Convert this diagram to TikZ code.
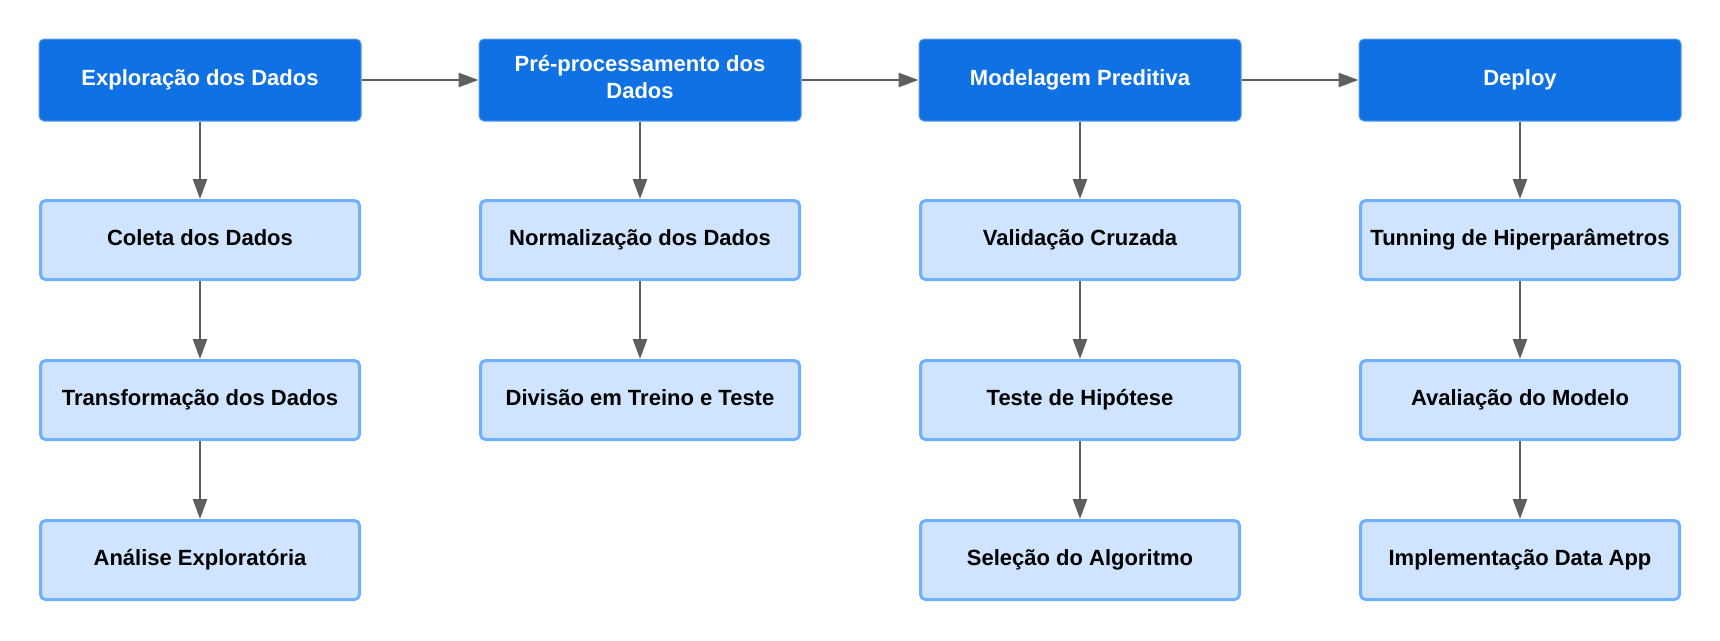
\documentclass[tikz,border=0pt]{standalone}
\usepackage{fontspec}
\setmainfont{Liberation Sans}
\usetikzlibrary{arrows.meta}
\definecolor{dkblue}{HTML}{1071E5}
\definecolor{ltfill}{HTML}{CFE4FF}
\definecolor{ltborder}{HTML}{71B0FF}
\definecolor{arrgray}{HTML}{5E5E5E}
\tikzset{
  head/.style={rectangle, rounded corners=5pt, fill=dkblue, draw=dkblue!70!white, line width=1pt,
    minimum width=322pt, minimum height=82pt, align=center, text height=16pt, text depth=5.5pt,
    font=\fontsize{22pt}{26.5pt}\selectfont\bfseries, text=white, inner sep=0pt},
  sub/.style={rectangle, rounded corners=5pt, fill=ltfill, draw=ltborder, line width=3pt,
    minimum width=319pt, minimum height=79pt, align=center, text height=16pt, text depth=5.5pt,
    font=\fontsize{22pt}{26.5pt}\selectfont\bfseries, text=black, inner sep=0pt},
  conn/.style={draw=arrgray, line width=2.7pt, -{Triangle[length=20pt,width=14pt]}}
}
\begin{document}
\begin{tikzpicture}[x=1pt,y=-1pt]
\useasboundingbox (0,0) rectangle (1720,640);
% column centers: 200, 640, 1080, 1520
\node[head] (h1) at (200,80) {Exploração dos Dados};
\node[head, text height=40pt, text depth=4pt] (h2) at (640,80) {Pré-processamento dos\\Dados};
\node[head] (h3) at (1080,80) {Modelagem Preditiva};
\node[head] (h4) at (1520,80) {Deploy};

\node[sub] (a1) at (200,240) {Coleta dos Dados};
\node[sub] (a2) at (200,400) {Transformação dos Dados};
\node[sub] (a3) at (200,560) {Análise Exploratória};

\node[sub] (b1) at (640,240) {Normalização dos Dados};
\node[sub] (b2) at (640,400) {Divisão em Treino e Teste};

\node[sub] (c1) at (1080,240) {Validação Cruzada};
\node[sub] (c2) at (1080,400) {Teste de Hipótese};
\node[sub] (c3) at (1080,560) {Seleção do Algoritmo};

\node[sub] (d1) at (1520,240) {Tunning de Hiperparâmetros};
\node[sub] (d2) at (1520,400) {Avaliação do Modelo};
\node[sub] (d3) at (1520,560) {Implementação Data App};

\draw[conn] (h1) -- (h2);
\draw[conn] (h2) -- (h3);
\draw[conn] (h3) -- (h4);

\draw[conn] (h1) -- (a1);
\draw[conn] (a1) -- (a2);
\draw[conn] (a2) -- (a3);
\draw[conn] (h2) -- (b1);
\draw[conn] (b1) -- (b2);
\draw[conn] (h3) -- (c1);
\draw[conn] (c1) -- (c2);
\draw[conn] (c2) -- (c3);
\draw[conn] (h4) -- (d1);
\draw[conn] (d1) -- (d2);
\draw[conn] (d2) -- (d3);
\end{tikzpicture}
\end{document}
